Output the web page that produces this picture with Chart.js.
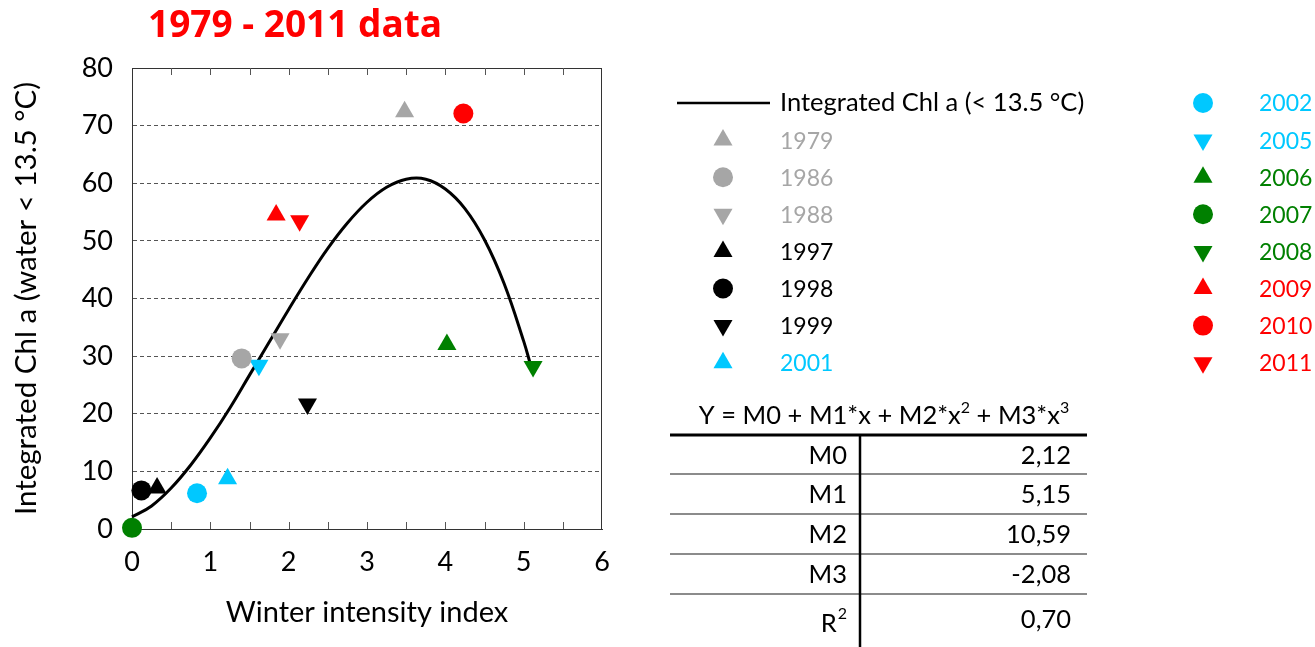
<!DOCTYPE html>
<html>
<head>
<title>Integrated Chl a vs winter intensity, 1979 - 2011</title>
<script src="https://cdn.jsdelivr.net/npm/chart.js"></script>
<style>
  html, body { margin: 0; padding: 0; background: #fff; }
</style>
</head>
<body>
<canvas id="chart" width="1315" height="647"></canvas>
<script>
// one observation per year
const years = ['1979', '1986', '1988', '1997', '1998', '1999', '2001', '2002', '2005',
               '2006', '2007', '2008', '2009', '2010', '2011'];
const winterIndex = [3.48, 1.40, 1.89, 0.32, 0.12, 2.24, 1.22, 0.83, 1.62,
                     4.02, 0.00, 5.12, 1.84, 4.23, 2.14];
const chlA = [72.4, 29.6, 33.0, 7.1, 6.7, 21.7, 8.7, 6.2, 28.4,
              32.0, 0.2, 28.2, 54.5, 72.1, 53.5];

// fitted curve
const fitX = [0, 0.25, 0.5, 0.75, 1, 1.25, 1.5, 1.75, 2, 2.25, 2.5, 2.75,
              3, 3.25, 3.5, 3.75, 4, 4.25, 4.5, 4.75, 5, 5.1];
const fitY = [2.1, 4.0, 7.1, 11.1, 15.8, 21.0, 26.7, 32.4, 38.1, 43.6, 48.7, 53.1,
              56.7, 59.3, 60.7, 60.7, 59.0, 55.6, 50.2, 42.6, 32.6, 27.9];

// coefficient table
const coefNames = ['M0', 'M1', 'M2', 'M3'];
const coefValues = ['2,12', '5,15', '10,59', '-2,08'];
const r2Value = '0,70';

const xTicks = [0, 1, 2, 3, 4, 5, 6];
const yTicks = [0, 10, 20, 30, 40, 50, 60, 70, 80];

// marker styling per year (kept apart from the values)
const GREY = '#a6a6a6', BLACK = '#000000', CYAN = '#00c8ff', GREEN = '#008000', RED = '#ff0000';
const yearColor = [GREY, GREY, GREY, BLACK, BLACK, BLACK, CYAN, CYAN, CYAN,
                   GREEN, GREEN, GREEN, RED, RED, RED];
const yearShape = ['up', 'circle', 'down', 'up', 'circle', 'down', 'up', 'circle', 'down',
                   'up', 'circle', 'down', 'up', 'circle', 'down'];

const FONT = 'Lato, "Open Sans", sans-serif';

function markerOpts(shape) {
  if (shape === 'circle') return { pointStyle: 'circle', radius: 10, rotation: 0 };
  return { pointStyle: 'triangle', radius: 11, rotation: shape === 'down' ? 180 : 0 };
}

const datasets = [];
datasets.push({
  label: 'Integrated Chl a (< 13.5 °C)',
  type: 'line',
  data: fitX.map((x, i) => ({ x: x, y: fitY[i] })),
  borderColor: '#000',
  borderWidth: 3,
  pointRadius: 0,
  tension: 0.4,
  fill: false,
  clip: false,
  order: 2
});
years.forEach((yr, i) => {
  const m = markerOpts(yearShape[i]);
  datasets.push({
    label: yr,
    data: [{ x: winterIndex[i], y: chlA[i] }],
    pointStyle: m.pointStyle,
    pointRadius: m.radius,
    pointRotation: m.rotation,
    pointBackgroundColor: yearColor[i],
    pointBorderWidth: 0,
    clip: false,
    order: 1
  });
});

// frame, inward ticks, title, legend and table
const decor = {
  id: 'decor',
  beforeDatasetsDraw(chart) {
    const { ctx, chartArea: a, scales } = chart;
    ctx.save();
    ctx.strokeStyle = '#333';
    ctx.lineWidth = 1;
    ctx.beginPath();
    ctx.moveTo(a.left, a.top + 0.5); ctx.lineTo(a.right, a.top + 0.5);
    ctx.moveTo(a.right - 0.5, a.top); ctx.lineTo(a.right - 0.5, a.bottom);
    ctx.stroke();
    ctx.strokeStyle = '#555';
    ctx.beginPath();
    for (let v = 0.5; v < 6; v += 0.5) {
      const px = Math.round(scales.x.getPixelForValue(v)) + 0.5;
      ctx.moveTo(px, a.bottom); ctx.lineTo(px, a.bottom - 7);
      ctx.moveTo(px, a.top); ctx.lineTo(px, a.top + 7);
    }
    ctx.stroke();
    ctx.restore();
  },
  afterDraw(chart) {
    const ctx = chart.ctx;
    ctx.save();

    // title
    ctx.fillStyle = RED;
    ctx.font = 'bold 37px "Open Sans", sans-serif';
    ctx.textAlign = 'left';
    ctx.textBaseline = 'alphabetic';
    ctx.fillText('1979 - 2011 data', 148, 37);

    // legend
    ctx.font = '25.5px ' + FONT;
    ctx.textBaseline = 'middle';
    const rowH = 37.1;
    ctx.strokeStyle = '#000';
    ctx.lineWidth = 2.5;
    ctx.beginPath();
    ctx.moveTo(677, 103); ctx.lineTo(770, 103);
    ctx.stroke();
    ctx.fillStyle = '#000';
    ctx.fillText(datasets[0].label, 780, 103);
    ctx.font = '23px ' + FONT;
    years.forEach((yr, i) => {
      const col = i < 7 ? 0 : 1;
      const row = col === 0 ? i + 1 : i - 7;
      const y = 103 + row * rowH;
      const mx = col === 0 ? 723 : 1203;
      const tx = col === 0 ? 780 : 1259;
      const m = markerOpts(yearShape[i]);
      ctx.fillStyle = yearColor[i];
      Chart.helpers.drawPoint(ctx, { pointStyle: m.pointStyle, radius: m.radius, rotation: m.rotation, borderWidth: 0 }, mx, y);
      ctx.fillStyle = yearColor[i];
      ctx.fillText(yr, tx, y + 1);
    });

    // table header with superscripts
    ctx.fillStyle = '#000';
    ctx.textBaseline = 'alphabetic';
    const base = '25.5px ' + FONT, sup = '16px ' + FONT;
    const parts = [['Y = M0 + M1*x + M2*x', base, 0], ['2', sup, -11], [' + M3*x', base, 0], ['3', sup, -11]];
    let total = 0;
    parts.forEach(p => { ctx.font = p[1]; total += ctx.measureText(p[0]).width; });
    let hx = 884 - total / 2;
    parts.forEach(p => { ctx.font = p[1]; ctx.fillText(p[0], hx, 424 + p[2]); hx += ctx.measureText(p[0]).width; });

    // table lines
    ctx.strokeStyle = '#000';
    ctx.lineWidth = 3;
    ctx.beginPath(); ctx.moveTo(670, 435); ctx.lineTo(1087, 435); ctx.stroke();
    ctx.strokeStyle = '#666';
    ctx.lineWidth = 1.5;
    ctx.beginPath();
    [474, 514, 554, 594].forEach(y => { ctx.moveTo(670, y); ctx.lineTo(1087, y); });
    ctx.stroke();
    ctx.strokeStyle = '#000';
    ctx.lineWidth = 2.5;
    ctx.beginPath(); ctx.moveTo(860, 435); ctx.lineTo(860, 647); ctx.stroke();

    // table cells
    ctx.font = base;
    ctx.textBaseline = 'middle';
    ctx.textAlign = 'right';
    const rowY = [456, 495, 535, 575];
    coefNames.forEach((n, i) => {
      ctx.fillText(n, 847, rowY[i]);
      ctx.fillText(coefValues[i], 1071, rowY[i]);
    });
    ctx.fillText(r2Value, 1071, 620);
    ctx.font = sup;
    const w2 = ctx.measureText('2').width;
    ctx.fillText('2', 847, 614);
    ctx.font = base;
    ctx.fillText('R', 847 - w2 - 1, 624);

    ctx.restore();
  }
};

new Chart(document.getElementById('chart'), {
  type: 'scatter',
  data: { datasets: datasets },
  options: {
    responsive: false,
    animation: false,
    events: [],
    layout: { padding: { left: 0, right: 713, top: 68, bottom: 0 } },
    plugins: {
      legend: { display: false },
      tooltip: { enabled: false },
      title: { display: false }
    },
    scales: {
      x: {
        type: 'linear',
        min: 0,
        max: 6,
        afterBuildTicks: s => { s.ticks = xTicks.map(v => ({ value: v })); },
        afterFit: s => { s.height = 118; },
        ticks: { font: { family: FONT, size: 27 }, color: '#000', padding: 17, maxRotation: 0 },
        grid: { display: false, drawTicks: false },
        border: { display: true, color: '#333', width: 1 },
        title: {
          display: true,
          text: 'Winter intensity index',
          font: { family: FONT, size: 29 },
          color: '#000',
          padding: { top: 0, bottom: 17 }
        }
      },
      y: {
        type: 'linear',
        min: 0,
        max: 80,
        afterBuildTicks: s => { s.ticks = yTicks.map(v => ({ value: v })); },
        afterFit: s => { s.width = 132; },
        ticks: { font: { family: FONT, size: 27 }, color: '#000', padding: 19 },
        grid: { display: true, drawTicks: false, color: '#555', lineWidth: 1 },
        border: { display: true, color: '#333', width: 1, dash: [4, 3] },
        title: {
          display: true,
          text: 'Integrated Chl a (water < 13.5 °C)',
          font: { family: FONT, size: 29.5 },
          color: '#000',
          padding: { top: 9, bottom: 0 }
        }
      }
    }
  },
  plugins: [decor]
});
</script>
</body>
</html>
